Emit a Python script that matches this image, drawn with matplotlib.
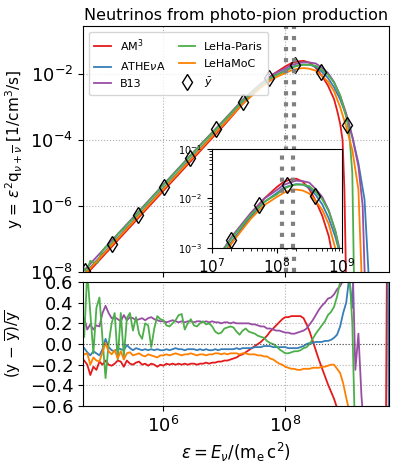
import numpy as np
import matplotlib.pyplot as plt

# models and colours (Set1)
MODELS = ['AM$^3$', r'ATHE$\nu$A', 'B13', 'LeHa-Paris', 'LeHaMoC']
COLORS = ['#e41a1c', '#377eb8', '#984ea3', '#4daf4a', '#ff7f00']

# spectra y = eps^2 q, given as log10(eps) and log10(y)
AM3_LE = [4.6, 5.0, 5.5, 6.0, 6.5, 7.0, 7.3, 7.6, 7.8, 8.0, 8.1, 8.2, 8.3, 8.4, 8.5, 8.6, 8.7, 8.8,
          8.85, 8.9, 8.94, 8.97, 9.0]
AM3_LY = [-8.34, -7.54, -6.54, -5.54, -4.54, -3.54, -2.91, -2.35, -2.01, -1.77, -1.67, -1.62, -1.60,
          -1.66, -1.81, -2.05, -2.35, -2.76, -3.10, -3.50, -4.00, -5.50, -8.50]

ATHENA_LE = [4.6, 5.0, 5.5, 6.0, 6.5, 7.0, 7.3, 7.6, 7.8, 8.0, 8.1, 8.2, 8.3, 8.4, 8.5, 8.6, 8.7, 8.8,
             8.9, 9.0, 9.1, 9.2, 9.3, 9.38]
ATHENA_LY = [-8.26, -7.46, -6.46, -5.46, -4.46, -3.48, -2.88, -2.37, -2.08, -1.89, -1.79, -1.74, -1.71,
             -1.72, -1.78, -1.93, -2.12, -2.40, -2.77, -3.25, -3.90, -4.70, -5.80, -8.50]

B13_LE = [4.6, 5.0, 5.5, 6.0, 6.5, 7.0, 7.3, 7.6, 7.8, 8.0, 8.1, 8.2, 8.3, 8.4, 8.5, 8.6, 8.7, 8.8,
          8.9, 9.0, 9.1, 9.2, 9.27, 9.31]
B13_LY = [-8.15, -7.35, -6.35, -5.35, -4.35, -3.38, -2.78, -2.29, -2.01, -1.83, -1.73, -1.68, -1.64,
          -1.65, -1.68, -1.81, -1.97, -2.24, -2.65, -3.20, -3.90, -4.80, -6.00, -8.50]

LEHAP_LE = [4.62, 4.68, 4.74, 4.80, 4.86, 4.92, 4.98, 5.05, 5.15, 5.25, 5.35, 5.45, 5.5, 6.0, 6.5,
            7.0, 7.3, 7.6, 7.8, 8.0, 8.1, 8.2, 8.3, 8.4, 8.5, 8.6, 8.7, 8.8, 8.9, 9.0, 9.05, 9.1, 9.13]
LEHAP_LY = [-8.14, -7.85, -7.99, -7.66, -7.72, -7.72, -7.42, -7.24, -7.14, -6.85, -6.68, -6.47, -6.38,
            -5.37, -4.37, -3.40, -2.81, -2.33, -2.07, -1.92, -1.81, -1.75, -1.72, -1.72, -1.75, -1.87,
            -2.02, -2.26, -2.65, -3.30, -3.80, -5.00, -8.50]

LEHAMOC_LE = [4.6, 5.0, 5.5, 6.0, 6.5, 7.0, 7.3, 7.6, 7.8, 8.0, 8.1, 8.2, 8.3, 8.4, 8.5, 8.6, 8.7, 8.8,
              8.9, 9.0, 9.1, 9.2, 9.26]
LEHAMOC_LY = [-8.29, -7.49, -6.49, -5.49, -4.49, -3.50, -2.91, -2.41, -2.14, -1.97, -1.89, -1.84, -1.82,
              -1.84, -1.90, -2.05, -2.23, -2.52, -3.00, -3.60, -4.30, -5.50, -8.50]

# mean spectrum markers
YBAR_LE = [4.72, 5.15, 5.58, 6.01, 6.44, 6.87, 7.30, 7.73, 8.16, 8.59, 9.02]
YBAR_LY = [-7.98, -7.14, -6.28, -5.41, -4.55, -3.68, -2.84, -2.13, -1.72, -1.95, -3.55]

# relative deviation from the mean, on log10(eps) = 4.70 ... 9.75 in steps of 0.05
RATIO_LE = np.round(np.arange(4.70, 9.76, 0.05), 2)
nan = np.nan
AM3_R = [-0.16, -0.20, -0.30, -0.22, -0.25, -0.17, -0.20, -0.16, -0.20, -0.21,
         -0.19, -0.16, -0.17, -0.22, -0.16, -0.19, -0.20, -0.18, -0.17, -0.20,
         -0.19, -0.21, -0.19, -0.20, -0.22, -0.20, -0.21, -0.19, -0.20, -0.19,
         -0.20, -0.19, -0.20, -0.19, -0.20, -0.19, -0.19, -0.20, -0.19, -0.19,
         -0.18, -0.19, -0.18, -0.18, -0.17, -0.17, -0.16, -0.16, -0.15, -0.14,
         -0.13, -0.11, -0.10, -0.08, -0.06, -0.04, -0.02, 0.00, 0.02, 0.05,
         0.08, 0.12, 0.15, 0.18, 0.21, 0.24, 0.26, 0.26, 0.27, 0.27,
         0.27, 0.27, 0.25, 0.19, 0.12, 0.03, -0.06, -0.15, -0.23, -0.31,
         -0.39, -0.46, -0.53, -0.62, -0.75, -0.90, -1.0, -1.0, -1.0, -1.0,
         -1.0, -1.0, -1.0, -1.0, -1.0, -1.0, -1.0, -1.0, -1.0, -1.0,
         4.0, 4.0]
ATHENA_R = [-0.04, -0.08, -0.11, -0.07, -0.09, -0.11, -0.05, 0.05, -0.03, -0.06,
            -0.07, -0.04, -0.05, -0.06, -0.01, -0.04, -0.06, -0.04, -0.05, -0.06,
            -0.05, -0.06, -0.05, -0.06, -0.05, -0.06, -0.06, -0.05, -0.06, -0.05,
            -0.04, -0.05, -0.05, -0.06, -0.05, -0.05, -0.05, -0.06, -0.05, -0.06,
            -0.05, -0.06, -0.06, -0.05, -0.06, -0.05, -0.05, -0.05, -0.05, -0.05,
            -0.04, -0.05, -0.04, -0.04, -0.04, -0.04, -0.03, -0.03, -0.03, -0.02,
            -0.02, -0.02, -0.03, -0.03, -0.03, -0.03, -0.03, -0.04, -0.04, -0.04,
            -0.04, -0.03, -0.02, 0.00, 0.01, 0.01, 0.02, 0.02, 0.02, 0.03,
            0.03, 0.04, 0.06, 0.09, 0.17, 0.30, 0.40, 0.65, 0.35, 1.2,
            2.0, 3.0, 3.8, 4.0, 4.0, nan, nan, nan, nan, 4.0,
            -1.0, -1.0]
B13_R = [0.25, 0.14, 0.19, 0.14, 0.18, 0.17, 0.30, 0.37, 0.30, 0.25,
         0.26, 0.24, 0.22, 0.28, 0.23, 0.26, 0.25, 0.23, 0.24, 0.25,
         0.23, 0.25, 0.26, 0.24, 0.23, 0.22, 0.22, 0.21, 0.22, 0.23,
         0.22, 0.21, 0.22, 0.21, 0.22, 0.22, 0.21, 0.22, 0.22, 0.21,
         0.22, 0.21, 0.22, 0.21, 0.21, 0.20, 0.21, 0.21, 0.20, 0.21,
         0.20, 0.20, 0.20, 0.20, 0.20, 0.19, 0.19, 0.18, 0.17, 0.17,
         0.15, 0.15, 0.14, 0.13, 0.13, 0.12, 0.11, 0.11, 0.10, 0.10,
         0.11, 0.12, 0.13, 0.15, 0.19, 0.23, 0.28, 0.33, 0.37, 0.40,
         0.44, 0.45, 0.48, 0.53, 0.56, 0.62, 0.70, 0.80, 0.90, -0.25,
         0.10, -0.50, -0.90, -1.0, -1.0, -1.0, -1.0, -1.0, -1.0, -1.0,
         -1.0, -1.0]
LEHAP_R = [0.07, 0.70, 0.30, -0.09, 0.35, 0.45, 0.05, -0.33, 0.00, 0.20,
           0.30, -0.15, 0.30, -0.12, 0.25, 0.30, 0.13, 0.26, 0.10, 0.05,
           0.20, 0.18, -0.03, 0.15, 0.27, 0.24, 0.23, 0.18, 0.17, 0.20,
           0.23, 0.28, 0.29, 0.14, 0.20, 0.24, 0.18, 0.17, 0.20, 0.22,
           0.19, 0.20, 0.17, 0.12, 0.10, 0.11, 0.15, 0.16, 0.17, 0.16,
           0.12, 0.09, 0.13, 0.15, 0.12, 0.11, 0.10, 0.08, 0.07, 0.06,
           0.03, 0.01, 0.00, -0.02, -0.05, -0.07, -0.09, -0.09, -0.08, -0.07,
           -0.07, -0.06, -0.04, -0.03, 0.00, 0.05, 0.10, 0.14, 0.18, 0.22,
           0.28, 0.31, 0.36, 0.46, 0.60, 0.80, 1.00, 0.70, 0.20, -1.0,
           -1.0, -1.0, -1.0, -1.0, -1.0, -1.0, -1.0, -1.0, -1.0, -1.0,
           -1.0, -1.0]
LEHAMOC_R = [-0.10, -0.09, -0.20, -0.13, -0.16, -0.17, -0.08, 0.01, -0.07, -0.10,
             -0.06, -0.14, -0.07, -0.15, -0.09, -0.08, -0.11, -0.10, -0.09, -0.11,
             -0.12, -0.10, -0.11, -0.12, -0.13, -0.11, -0.11, -0.10, -0.11, -0.10,
             -0.09, -0.10, -0.11, -0.10, -0.10, -0.09, -0.10, -0.11, -0.10, -0.10,
             -0.11, -0.10, -0.10, -0.09, -0.09, -0.10, -0.09, -0.10, -0.09, -0.09,
             -0.09, -0.10, -0.09, -0.09, -0.10, -0.10, -0.10, -0.11, -0.11, -0.12,
             -0.12, -0.14, -0.15, -0.17, -0.19, -0.20, -0.22, -0.23, -0.24, -0.24,
             -0.25, -0.25, -0.24, -0.24, -0.24, -0.23, -0.23, -0.23, -0.22, -0.22,
             -0.21, -0.20, -0.20, -0.24, -0.28, -0.38, -0.52, -0.65, -0.80, -0.90,
             -0.97, -1.0, -1.0, -1.0, -1.0, -1.0, -1.0, -1.0, -1.0, -1.0,
             -1.0, -1.0]

SPEC_LE = [AM3_LE, ATHENA_LE, B13_LE, LEHAP_LE, LEHAMOC_LE]
SPEC_LY = [AM3_LY, ATHENA_LY, B13_LY, LEHAP_LY, LEHAMOC_LY]
RATIOS = [AM3_R, ATHENA_R, B13_R, LEHAP_R, LEHAMOC_R]

# grey dotted markers of the peak region
MAIN_VLINES = [1.02e8, 1.38e8]
INSET_VLINES = [1.2e8, 1.8e8]

XLIM = (10**4.68, 10**9.70)

fig = plt.figure(figsize=(3.96, 4.67), dpi=100)
ax = fig.add_axes([0.2096, 0.4176, 0.7724, 0.5267])
axr = fig.add_axes([0.2096, 0.1306, 0.7724, 0.2655], sharex=ax)
axin = fig.add_axes([0.535, 0.469, 0.328, 0.212])

for name, col, le, ly in zip(MODELS, COLORS, SPEC_LE, SPEC_LY):
    ax.plot(10**np.array(le), 10**np.array(ly), color=col, lw=1.3, label=name)
    axin.plot(10**np.array(le), 10**np.array(ly), color=col, lw=1.3)

ax.plot(10**np.array(YBAR_LE), 10**np.array(YBAR_LY), ls='none', marker='d', ms=8,
        mfc='none', mec='k', mew=1.0, label=r'$\bar{y}$')
axin.plot(10**np.array(YBAR_LE), 10**np.array(YBAR_LY), ls='none', marker='d', ms=8,
          mfc='none', mec='k', mew=1.0)

for v in MAIN_VLINES:
    ax.axvline(v, color='grey', ls=':', lw=3)
for v in INSET_VLINES:
    axin.axvline(v, color='grey', ls=':', lw=3)

ax.set_xscale('log')
ax.set_yscale('log')
ax.set_xlim(*XLIM)
ax.set_ylim(1e-8, 10**-0.545)
ax.set_yticks([1e-8, 1e-6, 1e-4, 1e-2])
ax.set_xticks([1e6, 1e8])
ax.minorticks_off()
ax.tick_params(labelsize=13)
ax.tick_params(axis='x', labelbottom=False)
ax.grid(True, ls=':', color='#b0b0b0', lw=0.8)
ax.set_title('Neutrinos from photo-pion production', fontsize=11.5, pad=4)
ax.set_ylabel(r'y = $\varepsilon^2$q$_{\nu+\overline{\nu}}$ [1/cm$^3$/s]', fontsize=11)
ax.legend(loc='upper left', ncol=2, fontsize=8, handlelength=1.5, columnspacing=1.2,
          borderpad=0.5, labelspacing=0.6)

axin.set_xscale('log')
axin.set_yscale('log')
axin.set_xlim(1e7, 1e9)
axin.set_ylim(1e-3, 1e-1)
axin.tick_params(axis='x', labelsize=11)
axin.tick_params(axis='y', labelsize=7)

for name, col, r in zip(MODELS, COLORS, RATIOS):
    axr.plot(10**RATIO_LE, r, color=col, lw=1.3)
axr.axhline(0, color='#555555', ls=':', lw=0.8)
axr.set_ylim(-0.6, 0.6)
axr.set_yticks([-0.6, -0.4, -0.2, 0.0, 0.2, 0.4, 0.6])
axr.set_xticks([1e6, 1e8])
axr.minorticks_off()
axr.tick_params(labelsize=13)
axr.grid(True, ls=':', color='#b0b0b0', lw=0.8)
axr.set_xlim(*XLIM)
axr.set_ylabel(r'(y $-$ $\overline{\mathrm{y}}$)/$\overline{\mathrm{y}}$', fontsize=11)
axr.set_xlabel(r'$\varepsilon = E_\nu/(\mathrm{m_e\,c^2})$', fontsize=12)

fig.savefig('out.png', dpi=100)
